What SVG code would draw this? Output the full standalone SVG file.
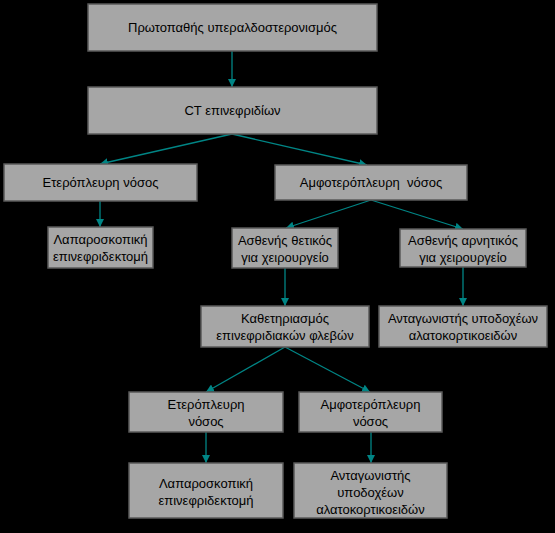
<svg xmlns="http://www.w3.org/2000/svg" width="555" height="533" viewBox="0 0 555 533">
<defs>
<style>
.box rect{fill:#a6a6a6;stroke:#5a5a5a;stroke-width:1.5}
.box text{font-family:"Liberation Sans",Arial,sans-serif;font-size:13px;fill:#000;text-anchor:middle;white-space:pre}
.conn line{stroke:#008585;stroke-width:1.3;marker-end:url(#ah)}
</style>
<marker id="ah" viewBox="0 0 10 10" refX="10" refY="5" markerWidth="8" markerHeight="8" markerUnits="userSpaceOnUse" orient="auto">
<path d="M0,0 L10,5 L0,10 z" fill="#008585"/>
</marker>
</defs>
<rect width="555" height="533" fill="#000"/>
<g class="conn">
<line x1="232" y1="51" x2="232" y2="87"/>
<line x1="232" y1="134" x2="100" y2="164"/>
<line x1="232" y1="134" x2="367" y2="165"/>
<line x1="100" y1="201" x2="100" y2="227"/>
<line x1="371" y1="200" x2="286" y2="228"/>
<line x1="371" y1="200" x2="463" y2="229"/>
<line x1="285" y1="268" x2="285" y2="306"/>
<line x1="463" y1="267" x2="463" y2="306"/>
<line x1="285" y1="347" x2="206" y2="392"/>
<line x1="285" y1="347" x2="370" y2="392"/>
<line x1="206" y1="432" x2="206" y2="463"/>
<line x1="371" y1="432" x2="371" y2="463"/>
</g>
<g id="n1" class="box"><rect x="88" y="4" width="289" height="47"/><text x="232.5" y="32">Πρωτοπαθής υπεραλδοστερονισμός</text></g>
<g id="n2" class="box"><rect x="88" y="87" width="289" height="47"/><text x="232.5" y="115">CT επινεφριδίων</text></g>
<g id="n3" class="box"><rect x="4" y="164" width="193" height="37"/><text x="100.5" y="187">Ετερόπλευρη νόσος</text></g>
<g id="n4" class="box"><rect x="275" y="165" width="192" height="35"/><text x="371" y="187" xml:space="preserve">Αμφοτερόπλευρη  νόσος</text></g>
<g id="n5" class="box"><rect x="48" y="227" width="105" height="41"/><text x="100.5" y="244">Λαπαροσκοπική</text><text x="100.5" y="261">επινεφριδεκτομή</text></g>
<g id="n6" class="box"><rect x="232" y="228" width="106" height="40"/><text x="285" y="245">Ασθενής θετικός</text><text x="285" y="262">για χειρουργείο</text></g>
<g id="n7" class="box"><rect x="400" y="229" width="126" height="38"/><text x="463" y="245">Ασθενής αρνητικός</text><text x="463" y="262">για χειρουργείο</text></g>
<g id="n8" class="box"><rect x="201" y="306" width="168" height="41"/><text x="285" y="323">Καθετηριασμός</text><text x="285" y="340">επινεφριδιακών φλεβών</text></g>
<g id="n9" class="box"><rect x="379" y="306" width="168" height="41"/><text x="463" y="323">Ανταγωνιστής υποδοχέων</text><text x="463" y="340">αλατοκορτικοειδών</text></g>
<g id="n10" class="box"><rect x="129" y="392" width="154" height="40"/><text x="206" y="409">Ετερόπλευρη</text><text x="206" y="426">νόσος</text></g>
<g id="n11" class="box"><rect x="299" y="392" width="143" height="40"/><text x="370.5" y="409">Αμφοτερόπλευρη</text><text x="370.5" y="426">νόσος</text></g>
<g id="n12" class="box"><rect x="129" y="463" width="154" height="55"/><text x="206" y="488">Λαπαροσκοπική</text><text x="206" y="505">επινεφριδεκτομή</text></g>
<g id="n13" class="box"><rect x="294" y="463" width="153" height="55"/><text x="370.5" y="480">Ανταγωνιστής</text><text x="370.5" y="497">υποδοχέων</text><text x="370.5" y="514">αλατοκορτικοειδών</text></g>
</svg>
